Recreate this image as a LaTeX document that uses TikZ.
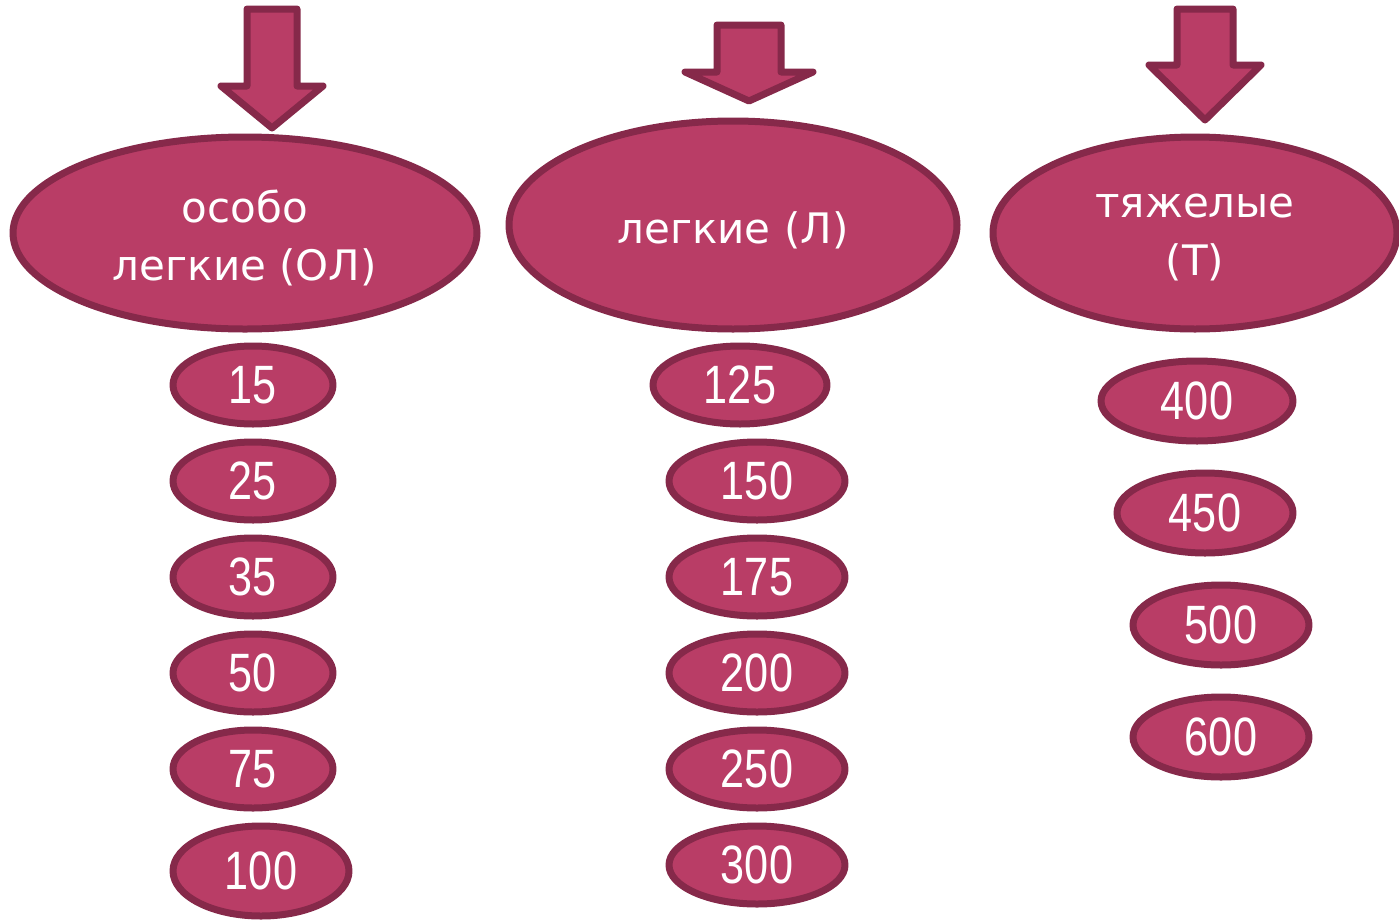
\documentclass[tikz,border=0pt]{standalone}
\usepackage{fontspec}
\setmainfont{DejaVu Sans}
\newfontfamily\numfont{Liberation Sans}
\usetikzlibrary{shapes.geometric}
\definecolor{fillc}{RGB}{185,61,102}
\definecolor{linec}{RGB}{134,41,74}
\tikzset{
  shp/.style={fill=fillc, draw=linec, line width=7pt, line join=round},
  big/.style={shp, ellipse, inner sep=0pt},
  bigtxt/.style={text=white, align=center, inner sep=0pt, yshift=-5pt,
    font=\fontsize{42}{58}\selectfont},
  num/.style={shp, ellipse, inner sep=0pt, text=white,
    font=\numfont\fontsize{54}{60}\selectfont},
}
\newcommand{\nm}[1]{\scalebox{0.8}[1]{#1}}
\begin{document}
\begin{tikzpicture}[x=1pt,y=-1pt]
\useasboundingbox (0,0) rectangle (1399,921);
% arrows
\draw[shp] (247,9) -- (297,9) -- (297,86) -- (323,86) -- (272,128) -- (221,86) -- (247,86) -- cycle;
\draw[shp] (717,25) -- (781,25) -- (781,72) -- (813,72) -- (749,101) -- (685,72) -- (717,72) -- cycle;
\draw[shp] (1177,9) -- (1233,9) -- (1233,65) -- (1261,65) -- (1205,120) -- (1149,65) -- (1177,65) -- cycle;
% big ellipses
\node[big, minimum width=464pt, minimum height=192pt,
  label={[bigtxt]center:особо\\легкие (ОЛ)}] (ol) at (245,233) {};
\node[big, minimum width=448pt, minimum height=208pt,
  label={[bigtxt]center:легкие (Л)}] (l) at (733,225) {};
\node[big, minimum width=404pt, minimum height=192pt,
  label={[bigtxt]center:тяжелые\\(Т)}] (t) at (1195,233) {};
% column 1
\node[num, minimum width=160pt, minimum height=78pt] (a15) at (253,385) {\nm{15}};
\node[num, minimum width=160pt, minimum height=78pt] (a25) at (253,481) {\nm{25}};
\node[num, minimum width=160pt, minimum height=78pt] (a35) at (253,577) {\nm{35}};
\node[num, minimum width=160pt, minimum height=78pt] (a50) at (253,673) {\nm{50}};
\node[num, minimum width=160pt, minimum height=78pt] (a75) at (253,769) {\nm{75}};
\node[num, minimum width=176pt, minimum height=90pt] (a100) at (261,871) {\nm{100}};
% column 2
\node[num, minimum width=174pt, minimum height=78pt] (b125) at (740,385) {\nm{125}};
\node[num, minimum width=176pt, minimum height=78pt] (b150) at (757,481) {\nm{150}};
\node[num, minimum width=176pt, minimum height=78pt] (b175) at (757,577) {\nm{175}};
\node[num, minimum width=176pt, minimum height=78pt] (b200) at (757,673) {\nm{200}};
\node[num, minimum width=176pt, minimum height=78pt] (b250) at (757,769) {\nm{250}};
\node[num, minimum width=176pt, minimum height=78pt] (b300) at (757,865) {\nm{300}};
% column 3
\node[num, minimum width=192pt, minimum height=80pt] (c400) at (1197,401) {\nm{400}};
\node[num, minimum width=176pt, minimum height=80pt] (c450) at (1205,513) {\nm{450}};
\node[num, minimum width=176pt, minimum height=80pt] (c500) at (1221,625) {\nm{500}};
\node[num, minimum width=176pt, minimum height=80pt] (c600) at (1221,737) {\nm{600}};
\end{tikzpicture}
\end{document}
